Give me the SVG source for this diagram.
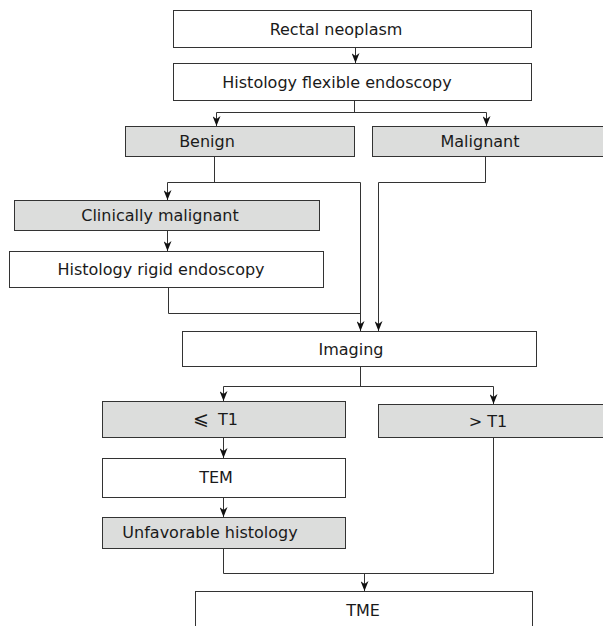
<svg xmlns="http://www.w3.org/2000/svg" width="603" height="626" viewBox="0 0 603 626">
<defs>
<marker id="ah" markerUnits="userSpaceOnUse" markerWidth="10" markerHeight="8" viewBox="0 0 10 8" refX="10" refY="4" orient="auto">
<path d="M0,0 L3,4 L0,8 L10,4 Z" fill="#111"/>
</marker>
</defs>
<style>
.w,.g{stroke:#333;stroke-width:1}
.w{fill:#fff}
.g{fill:#dcdddc}
text{font-family:"DejaVu Sans",Verdana,sans-serif;font-size:16px;fill:#1a1a1a;text-anchor:middle}
.c path{fill:none;stroke:#333;stroke-width:1}
.c .a{marker-end:url(#ah)}
</style>
<rect x="0" y="0" width="603" height="626" fill="#fff"/>
<g class="c" id="connectors">
<path class="a" d="M355.5,48 V63"/>
<path d="M354.5,101 V112.5"/>
<path class="a" d="M216.5,112.5 H486.5 V126"/>
<path class="a" d="M216.5,112.5 V126"/>
<path d="M214.5,157 V182.5"/>
<path class="a" d="M167.5,182.5 V200"/>
<path class="a" d="M167.5,182.5 H360.5 V331"/>
<path class="a" d="M485.5,157 V182.5 H378.5 V331"/>
<path class="a" d="M167.5,231 V251"/>
<path d="M168.5,288 V313.5 H360.5"/>
<path d="M360.5,367 V386.5"/>
<path class="a" d="M223.5,386.5 H493.5 V404"/>
<path class="a" d="M223.5,386.5 V401"/>
<path class="a" d="M223.5,438 V458"/>
<path class="a" d="M223.5,498 V517"/>
<path d="M223.5,549 V573.5 H493.5 V438"/>
<path class="a" d="M364.5,573.5 V591"/>
</g>
<g id="n1"><rect class="w" x="173.5" y="10.5" width="358" height="37"/><text x="336" y="35">Rectal neoplasm</text></g>
<g id="n2"><rect class="w" x="173.5" y="63.5" width="358" height="37"/><text x="337" y="88">Histology flexible endoscopy</text></g>
<g id="n3"><rect class="g" x="125.5" y="126.5" width="229" height="30"/><text x="207" y="147">Benign</text></g>
<g id="n4"><rect class="g" x="372.5" y="126.5" width="240" height="30"/><text x="480" y="147">Malignant</text></g>
<g id="n5"><rect class="g" x="14.5" y="200.5" width="305" height="30"/><text x="160" y="221">Clinically malignant</text></g>
<g id="n6"><rect class="w" x="9.5" y="251.5" width="314" height="36"/><text x="161" y="275">Histology rigid endoscopy</text></g>
<g id="n7"><rect class="w" x="182.5" y="331.5" width="354" height="35"/><text x="351" y="355">Imaging</text></g>
<g id="n8"><rect class="g" x="102.5" y="401.5" width="243" height="36"/><text x="193" y="425" style="text-anchor:start"><tspan font-size="19">⩽</tspan><tspan dx="4"> T1</tspan></text></g>
<g id="n9"><rect class="g" x="378.5" y="404.5" width="240" height="33"/><text x="488" y="427">&gt; T1</text></g>
<g id="n10"><rect class="w" x="102.5" y="458.5" width="243" height="39"/><text x="216" y="483">TEM</text></g>
<g id="n11"><rect class="g" x="102.5" y="517.5" width="243" height="31"/><text x="210" y="538">Unfavorable histology</text></g>
<g id="n12"><rect class="w" x="195.5" y="591.5" width="337" height="50"/><text x="363" y="616">TME</text></g>
</svg>
